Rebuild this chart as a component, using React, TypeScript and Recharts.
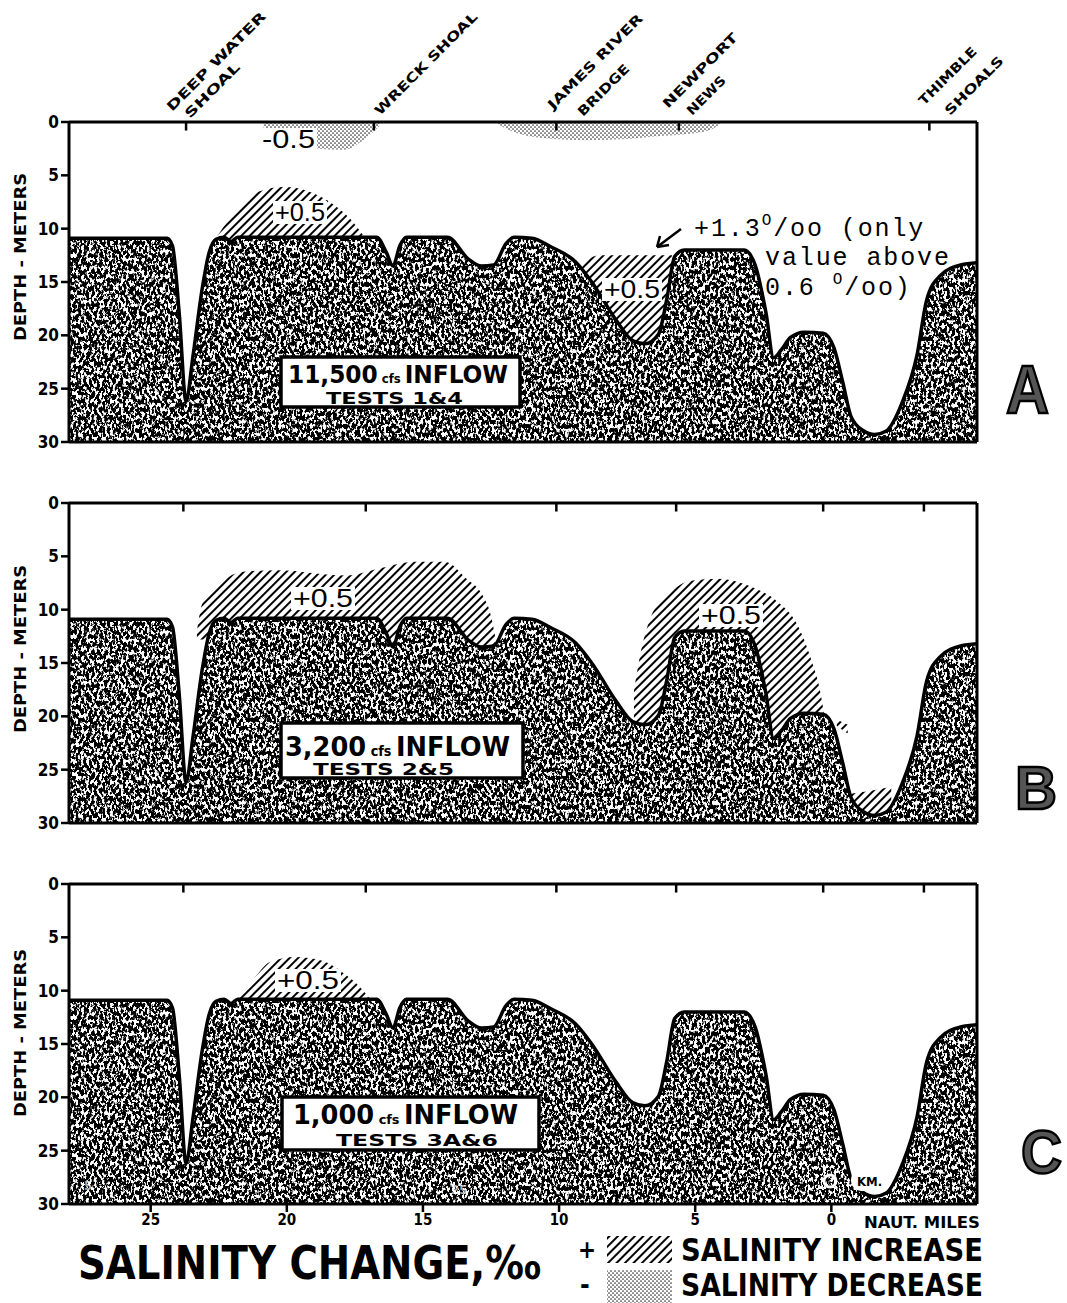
import React from 'react';
import { ComposedChart, Area, XAxis, YAxis, ReferenceLine } from 'recharts';

// channel bottom profile (nautical miles above mouth, depth in meters)
const channelMiles = [28.0, 24.4, 24.2, 23.95, 23.7, 23.45, 23.1, 22.85, 22.6, 22.3, 22.05, 21.8, 16.7, 16.35, 16.1, 15.85, 15.6, 14.1, 13.35, 12.85, 12.4, 11.95, 11.65, 11.0, 10.3, 9.4, 8.8, 7.9, 7.3, 6.85, 6.35, 6.05, 5.75, 5.4, 3.2, 2.8, 2.4, 2.12, 1.85, 1.5, 1.0, 0.3, -0.1, -0.42, -0.72, -1.15, -1.6, -2.0, -2.6, -3.15, -3.5, -4.0, -4.75, -5.35];
const channelDepth = [10.9, 10.9, 11.6, 18.0, 26.2, 22.0, 15.5, 12.2, 11.0, 10.8, 11.2, 10.8, 10.8, 12.2, 13.5, 11.6, 10.8, 10.8, 12.8, 13.5, 13.4, 11.4, 10.8, 10.9, 11.7, 13.1, 15.0, 18.6, 20.5, 20.8, 19.9, 16.7, 12.6, 12.0, 12.0, 13.4, 17.9, 22.1, 21.4, 20.2, 19.7, 19.8, 21.2, 24.4, 27.6, 28.9, 29.3, 29.0, 26.3, 21.8, 16.7, 14.4, 13.4, 13.2];

const mileTicks = [25, 20, 15, 10, 5, 0];
const depthTicks = [0, 5, 10, 15, 20, 25, 30];
const landmarksA = [23.7, 16.8, 10.1, 5.6, -3.6];
const landmarksBC = [23.8, 17.1, 10.1, 5.7, 0.3, -3.4];

// salinity zones: [mile, upper depth, lower depth]
type Zone = [number, number, number][];
const aIncWreck: Zone = [[22.6, 10.9, 11.5], [21.9, 8.4, 11.5], [21.0, 6.5, 11.5], [20.1, 6.1, 11.5], [19.1, 6.6, 11.5], [18.3, 7.7, 11.5], [17.7, 9.0, 11.5], [17.2, 10.6, 11.5]];
const aIncNewport: Zone = [[9.2, 13.3, 21], [8.5, 12.5, 21], [6.1, 12.5, 21], [5.85, 12.5, 21]];
const aDecWreck: Zone = [[20.85, 0, 1.9], [19.9, 0, 2.3], [18.9, 0, 2.5], [17.9, 0, 2.6], [17.2, 0, 1.7], [16.6, 0, 0.4]];
const aDecBridge: Zone = [[12.25, 0, 0.2], [11.6, 0, 1.0], [10.6, 0, 1.5], [9.0, 0, 1.7], [7.5, 0, 1.6], [6.2, 0, 1.3], [5.2, 0, 1.1], [4.5, 0, 0.8], [4.1, 0, 0.2]];
const bIncUpper: Zone = [[23.3, 12.0, 12.8], [23.1, 9.4, 12.8], [22.4, 7.4, 12.6], [21.6, 6.45, 12.5], [20.35, 6.3, 12.5], [17.8, 6.8, 14], [16.55, 6.1, 14], [15.3, 5.5, 14], [14.2, 5.5, 14], [13.4, 7.1, 14], [12.8, 8.7, 14], [12.5, 10.6, 14], [12.35, 12.5, 14]];
const bIncNewport: Zone = [[7.25, 17.6, 20.6], [7.0, 14.0, 21], [6.65, 10.8, 21], [6.0, 8.6, 21], [5.15, 7.3, 21], [4.15, 7.1, 21], [2.9, 7.9, 22.5], [2.0, 9.2, 22.5], [1.25, 11.4, 22], [0.75, 14.6, 21], [0.4, 17.8, 20.5], [0.28, 19.6, 20.2]];
const bIncSpot: Zone = [[-0.2, 20.3, 20.9], [-0.6, 20.8, 21.6]];
const bIncTrough: Zone = [[-0.55, 27.3, 30], [-1.4, 27.0, 30], [-2.2, 26.6, 30]];
const cIncWreck: Zone = [[22.0, 11.0, 11.6], [21.35, 9.3, 11.6], [20.6, 7.3, 11.6], [19.7, 6.85, 11.6], [18.7, 7.2, 11.6], [17.95, 8.3, 11.6], [17.3, 9.7, 11.6], [16.9, 10.9, 11.6]];

const COND = "'DejaVu Sans Condensed', 'Liberation Sans Narrow', 'DejaVu Sans', sans-serif";
const MONO = "'Liberation Mono', 'DejaVu Sans Mono', monospace";
const PLAIN = "'Liberation Sans', Arial, sans-serif";

const W = 1067;
const TOP_H = 14;
const PLOT_H = 320;

const profileRows = channelMiles.map((mile, i) => ({ mile, depth: channelDepth[i] }));
const bandRows = (z: Zone) => z.map(([mile, upper, lower]) => ({ mile, band: [upper, lower] }));

const panels = [
  { key: 'A', plotTop: 122, inc: [aIncWreck, aIncNewport], dec: [aDecWreck, aDecBridge], marks: landmarksA, miles: false },
  { key: 'B', plotTop: 503, inc: [bIncUpper, bIncNewport, bIncSpot, bIncTrough], dec: [] as Zone[], marks: landmarksBC, miles: false },
  { key: 'C', plotTop: 884, inc: [cIncWreck], dec: [] as Zone[], marks: landmarksBC, miles: true },
];

const Panel = ({ p }: { p: typeof panels[number] }) => {
  const bottomH = p.miles ? 32 : 14;
  const axisLine = { stroke: '#000', strokeWidth: 3 };
  const tickLine = { stroke: '#000', strokeWidth: 2.5 };
  return (
    <div style={{ position: 'absolute', left: 0, top: p.plotTop - TOP_H }}>
      <ComposedChart width={W} height={TOP_H + PLOT_H + bottomH} data={profileRows} margin={{ top: 0, right: 0, bottom: 0, left: 0 }}>
        <XAxis xAxisId="b" dataKey="mile" type="number" domain={[-5.35, 28]} reversed allowDataOverflow
          ticks={mileTicks} interval={0} height={bottomH} tickSize={8} axisLine={axisLine} tickLine={tickLine}
          tick={p.miles ? { fill: '#000', fontSize: 15, fontWeight: 700, fontFamily: COND } : false} />
        <XAxis xAxisId="t" dataKey="mile" type="number" orientation="top" domain={[-5.35, 28]} reversed allowDataOverflow
          height={TOP_H} tick={false} tickLine={false} axisLine={axisLine} />
        <YAxis yAxisId="l" type="number" domain={[0, 30]} reversed allowDataOverflow ticks={depthTicks} interval={0}
          width={69} tickSize={8} axisLine={axisLine} tickLine={tickLine}
          tick={{ fill: '#000', fontSize: 17, fontWeight: 700, fontFamily: COND }} />
        <YAxis yAxisId="r" orientation="right" type="number" domain={[0, 30]} reversed allowDataOverflow ticks={depthTicks}
          interval={0} width={90} tickSize={7} axisLine={axisLine} tickLine={tickLine} tick={false} />
        {p.dec.map((z, i) => (
          <Area key={'d' + i} xAxisId="b" yAxisId="l" data={bandRows(z)} dataKey="band" type="monotoneX"
            fill="url(#dots)" fillOpacity={1} stroke="none" isAnimationActive={false} />
        ))}
        {p.inc.map((z, i) => (
          <Area key={'i' + i} xAxisId="b" yAxisId="l" data={bandRows(z)} dataKey="band" type="monotoneX"
            fill="url(#hatch)" fillOpacity={1} stroke="none" isAnimationActive={false} />
        ))}
        <Area xAxisId="b" yAxisId="l" dataKey="depth" type="monotoneX" baseValue={30}
          fill="url(#speckle)" fillOpacity={1} stroke="#000" strokeWidth={3.5} isAnimationActive={false} />
        {p.marks.map((m) => (
          <ReferenceLine key={m} xAxisId="b" yAxisId="l" segment={[{ x: m, y: 0 }, { x: m, y: 0.8 }]}
            stroke="#000" strokeWidth={2.5} />
        ))}
      </ComposedChart>
    </div>
  );
};

const Slant = ({ x, y, len, text }: { x: number; y: number; len: number; text: string }) => (
  <text x={x} y={y} transform={`rotate(-45 ${x} ${y})`} textLength={len} lengthAdjust="spacingAndGlyphs"
    fontSize={13} fontWeight={700} fontFamily={COND}>{text}</text>
);

const Tag = ({ x, y, w, text }: { x: number; y: number; w: number; text: string }) => (
  <g>
    <rect x={x - 2} y={y - 20} width={w + 4} height={23} fill="#fff" />
    <text x={x} y={y} textLength={w} lengthAdjust="spacingAndGlyphs" fontSize={25} fontFamily={PLAIN}>{text}</text>
  </g>
);

const InflowBox = ({ x, y, w, h, l1x, l1y, l1w, big, l2x, l2y, l2w, tests, s1, s2 }: any) => (
  <g>
    <rect x={x} y={y} width={w} height={h} fill="#fff" stroke="#000" strokeWidth={3.5} />
    <text x={l1x} y={l1y} textLength={l1w} lengthAdjust="spacingAndGlyphs" fontFamily={COND} fontWeight={700} fontSize={s1}>
      {big}<tspan fontSize={s1 * 0.5}> cfs </tspan>INFLOW
    </text>
    <text x={l2x} y={l2y} textLength={l2w} lengthAdjust="spacingAndGlyphs" fontFamily={COND} fontWeight={700} fontSize={s2}>
      {tests}
    </text>
  </g>
);

const DepthLabel = ({ cy }: { cy: number }) => (
  <text x={26} y={cy} transform={`rotate(-90 26 ${cy})`} textAnchor="middle" textLength={168} lengthAdjust="spacingAndGlyphs"
    fontSize={15} fontWeight={700} fontFamily={COND}>DEPTH - METERS</text>
);

const Overlay = () => (
  <svg width={W} height={1303} style={{ position: 'absolute', left: 0, top: 0, pointerEvents: 'none' }}>
    <Slant x={172} y={112} len={134} text="DEEP WATER" />
    <Slant x={190} y={119} len={72} text="SHOAL" />
    <Slant x={380} y={116} len={139} text="WRECK SHOAL" />
    <Slant x={553} y={110} len={128} text="JAMES RIVER" />
    <Slant x={583} y={117} len={67} text="BRIDGE" />
    <Slant x={668} y={109} len={100} text="NEWPORT" />
    <Slant x={692} y={116} len={49} text="NEWS" />
    <Slant x={924} y={106} len={76} text="THIMBLE" />
    <Slant x={950} y={116} len={77} text="SHOALS" />

    <DepthLabel cy={257} />
    <DepthLabel cy={649} />
    <DepthLabel cy={1033} />

    <Tag x={262} y={148} w={53} text="-0.5" />
    <Tag x={275} y={221} w={50} text="+0.5" />
    <Tag x={604} y={298} w={56} text="+0.5" />
    <Tag x={293} y={607} w={60} text="+0.5" />
    <Tag x={701} y={624} w={60} text="+0.5" />
    <Tag x={277} y={989} w={62} text="+0.5" />

    <path d="M681 229 L657 247 M657 247 L669 245 M657 247 L660 236" stroke="#000" strokeWidth={2.5} fill="none" />
    <text x={694} y={236} fontFamily={MONO} fontSize={25} letterSpacing={1.9}>
      +1.3<tspan fontSize={16} dy={-11}>O</tspan><tspan dy={11}>/oo (only</tspan>
    </text>
    <text x={765} y={265} fontFamily={MONO} fontSize={25} letterSpacing={1.9}>value above</text>
    <text x={765} y={295} fontFamily={MONO} fontSize={25} letterSpacing={1.9}>
      0.6 <tspan fontSize={16} dy={-11}>O</tspan><tspan dy={11}>/oo)</tspan>
    </text>

    <InflowBox x={281} y={357} w={239} h={50} l1x={288} l1y={383} l1w={220} big="11,500" s1={25}
      l2x={326} l2y={404} l2w={137} tests="TESTS 1&4" s2={16} />
    <InflowBox x={281} y={723} w={242} h={55} l1x={285} l1y={756} l1w={225} big="3,200" s1={27}
      l2x={313} l2y={775} l2w={141} tests="TESTS 2&5" s2={16} />
    <InflowBox x={282} y={1097} w={257} h={53} l1x={293} l1y={1124} l1w={225} big="1,000" s1={26}
      l2x={336} l2y={1146} l2w={162} tests="TESTS 3A&6" s2={16} />

    <text x={1006} y={413} textLength={43} lengthAdjust="spacingAndGlyphs" fontSize={68} fontWeight={700}
      fontFamily={PLAIN} fill="#555" stroke="#000" strokeWidth={2.5}>A</text>
    <text x={1015} y={809} textLength={42} lengthAdjust="spacingAndGlyphs" fontSize={62} fontWeight={700}
      fontFamily={PLAIN} fill="#555" stroke="#000" strokeWidth={2.5}>B</text>
    <text x={1021} y={1173} textLength={41} lengthAdjust="spacingAndGlyphs" fontSize={62} fontWeight={700}
      fontFamily={PLAIN} fill="#555" stroke="#000" strokeWidth={2.5}>C</text>

    <text x={84} y={1190} fontSize={13} fontWeight={700} fontFamily={COND} fill="#fff" fillOpacity={0.7}>5</text>
    <text x={451} y={1194} fontSize={13} fontWeight={700} fontFamily={COND} fill="#fff" fillOpacity={0.7}>25</text>
    <circle cx={830} cy={1181} r={6} fill="none" stroke="#fff" strokeWidth={3} />
    <rect x={851} y={1169} width={40} height={22} rx={10} fill="#fff" />
    <text x={857} y={1186} fontSize={13} fontWeight={700} fontFamily={COND}>KM.</text>

    <text x={864} y={1228} textLength={116} lengthAdjust="spacingAndGlyphs" fontSize={15} fontWeight={700} fontFamily={COND}>NAUT. MILES</text>

    <text x={78} y={1279} textLength={463} lengthAdjust="spacingAndGlyphs" fontSize={46} fontWeight={700} fontFamily={COND}>SALINITY CHANGE,‰</text>
    <text x={578} y={1258} fontSize={24} fontWeight={700} fontFamily={COND}>+</text>
    <rect x={607} y={1236} width={65} height={27} fill="url(#hatch)" />
    <text x={681} y={1261} textLength={302} lengthAdjust="spacingAndGlyphs" fontSize={32} fontWeight={700} fontFamily={COND}>SALINITY INCREASE</text>
    <text x={580} y={1294} fontSize={26} fontWeight={700} fontFamily={COND}>-</text>
    <rect x={607} y={1270} width={65} height={33} fill="url(#dots)" />
    <text x={681} y={1296} textLength={302} lengthAdjust="spacingAndGlyphs" fontSize={32} fontWeight={700} fontFamily={COND}>SALINITY DECREASE</text>
  </svg>
);

const Defs = () => (
  <svg width={0} height={0} style={{ position: 'absolute' }}>
    <defs>
      <filter id="grain" x="0" y="0" width="100%" height="100%">
        <feTurbulence type="fractalNoise" baseFrequency="0.38 0.24" numOctaves={3} seed={7} />
        <feColorMatrix type="matrix" values="0 0 0 0 0  0 0 0 0 0  0 0 0 0 0  -12 0 0 0 6.9" />
      </filter>
      <pattern id="speckle" patternUnits="userSpaceOnUse" width={1067} height={1303}>
        <rect width={1067} height={1303} fill="#fff" />
        <rect width={1067} height={1303} fill="#000" filter="url(#grain)" />
      </pattern>
      <pattern id="hatch" patternUnits="userSpaceOnUse" width={6} height={6} patternTransform="rotate(45)">
        <line x1={3} y1={0} x2={3} y2={6} stroke="#000" strokeWidth={2} />
      </pattern>
      <pattern id="dots" patternUnits="userSpaceOnUse" width={4} height={4}>
        <circle cx={1} cy={1} r={0.85} fill="#333" />
        <circle cx={3} cy={3} r={0.85} fill="#333" />
      </pattern>
    </defs>
  </svg>
);

export default function App() {
  return (
    <div style={{ position: 'absolute', left: 0, top: 0, width: W, height: 1303, background: '#fff', overflow: 'hidden' }}>
      <Defs />
      {panels.map((p) => <Panel key={p.key} p={p} />)}
      <Overlay />
    </div>
  );
}
